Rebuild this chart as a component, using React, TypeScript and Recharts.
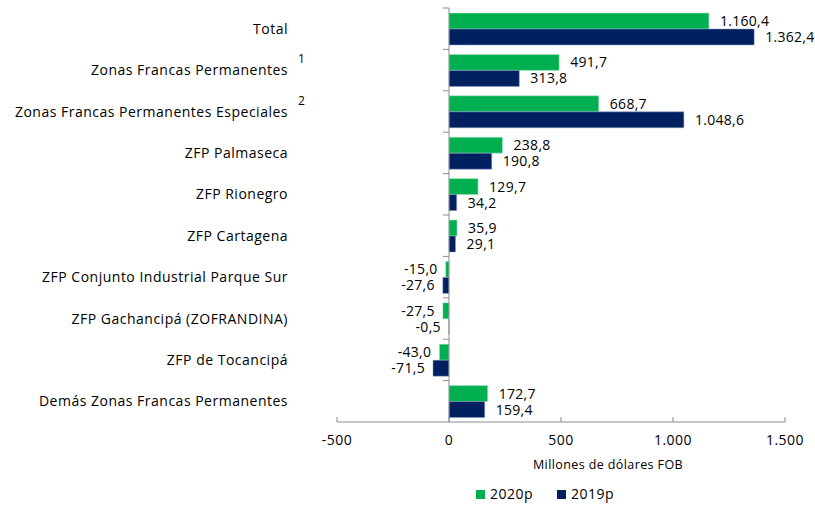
import { Bar, BarChart, LabelList, ReferenceLine, XAxis, YAxis, Label } from "recharts";

const categories = [
  "Total",
  "Zonas Francas Permanentes",
  "Zonas Francas Permanentes Especiales",
  "ZFP Palmaseca",
  "ZFP Rionegro",
  "ZFP Cartagena",
  "ZFP Conjunto Industrial Parque Sur",
  "ZFP Gachancipá (ZOFRANDINA)",
  "ZFP de Tocancipá",
  "Demás Zonas Francas Permanentes",
];
const notes = ["", "1", "2", "", "", "", "", "", "", ""];
const v2020 = [1160.4, 491.7, 668.7, 238.8, 129.7, 35.9, -15.0, -27.5, -43.0, 172.7];
const v2019 = [1362.4, 313.8, 1048.6, 190.8, 34.2, 29.1, -27.6, -0.5, -71.5, 159.4];
const xTicks = [-500, 0, 500, 1000, 1500];

const data = categories.map((name, i) => ({
  name,
  note: notes[i],
  y2020: v2020[i],
  y2019: v2019[i],
}));

const GREEN = "#00B050";
const NAVY = "#002060";
const AXIS = "#8C8C8C";
const FONT = "Open Sans";
const TXT = { fontFamily: FONT, fontSize: 14, letterSpacing: 0.5, fill: "#000" };

const W = 815;
const H = 506;
const PLOT_LEFT = 337;
const PLOT_RIGHT = 785;
const PLOT_TOP = 8;
const PLOT_BOTTOM = 422;
const ZERO_X = PLOT_LEFT + ((0 - -500) / 2000) * (PLOT_RIGHT - PLOT_LEFT);
const BAND = (PLOT_BOTTOM - PLOT_TOP) / categories.length;

function fmt(v: number, decimals = 1) {
  const neg = v < 0;
  const [int, dec] = Math.abs(v).toFixed(decimals).split(".");
  const withDots = int.replace(/\B(?=(\d{3})+(?!\d))/g, ".");
  return (neg ? "-" : "") + withDots + (dec ? "," + dec : "");
}

function CategoryTick(props: any) {
  const { y, payload, index } = props;
  const note = notes[index] || "";
  return (
    <g>
      <text x={288} y={y} dy={5} textAnchor="end" {...TXT}>
        {payload.value}
      </text>
      {note && (
        <text x={298} y={y} dy={-7} fontSize={12} fontFamily={FONT} fill="#000">
          {note}
        </text>
      )}
      <line x1={ZERO_X - 6} x2={ZERO_X} y1={y - BAND / 2} y2={y - BAND / 2} stroke={AXIS} />
    </g>
  );
}

function ValueTick(props: any) {
  const { x, y, payload } = props;
  return (
    <g>
      <line x1={x} x2={x} y1={y} y2={y - 5} stroke={AXIS} />
      <text x={x} y={y} dy={23} textAnchor="middle" {...TXT}>
        {fmt(payload.value, 0)}
      </text>
    </g>
  );
}

function ValueLabel(props: any) {
  const { x, y, width, height, value } = props;
  const left = Math.min(x, x + width);
  const right = Math.max(x, x + width);
  const neg = value < 0;
  return (
    <text
      x={neg ? left - 8 : right + 11}
      y={y + height / 2}
      dy={5}
      textAnchor={neg ? "end" : "start"}
      {...TXT}
      letterSpacing={0.3}
    >
      {fmt(value)}
    </text>
  );
}

function LegendBox() {
  const items = [
    { label: "2020p", color: GREEN },
    { label: "2019p", color: NAVY },
  ];
  return (
    <div
      style={{
        position: "absolute",
        top: 485,
        left: 476,
        display: "flex",
        gap: 24,
        fontFamily: FONT,
        fontSize: 14,
        letterSpacing: 0.5,
        lineHeight: "18px",
      }}
    >
      {items.map((it) => (
        <div key={it.label} style={{ display: "flex", alignItems: "center", gap: 5 }}>
          <span style={{ width: 9, height: 9, background: it.color, display: "inline-block" }} />
          <span>{it.label}</span>
        </div>
      ))}
    </div>
  );
}

export default function App() {
  return (
    <div style={{ position: "absolute", left: 0, top: 0, width: W, height: H, background: "#fff" }}>
      <BarChart
        width={W}
        height={H}
        data={data}
        layout="vertical"
        margin={{ top: PLOT_TOP, right: W - PLOT_RIGHT, bottom: 0, left: 0 }}
        barGap={0}
        barSize={16}
        style={{ overflow: "visible" }}
      >
        <XAxis
          type="number"
          domain={[-500, 1500]}
          ticks={xTicks}
          tick={<ValueTick />}
          tickSize={0}
          tickMargin={0}
          tickLine={false}
          axisLine={{ stroke: AXIS }}
          height={H - PLOT_BOTTOM}
          interval={0}
          allowDataOverflow
        >
          <Label
            value="Millones de dólares FOB"
            position="insideTop"
            offset={38}
            dx={47}
            fontSize={12.5}
            letterSpacing={0.4}
            fontFamily={FONT}
            fill="#000"
          />
        </XAxis>
        <YAxis
          type="category"
          dataKey="name"
          width={PLOT_LEFT}
          tick={<CategoryTick />}
          tickSize={0}
          tickMargin={0}
          tickLine={false}
          axisLine={false}
          interval={0}
        />
        <ReferenceLine x={0} stroke={AXIS} />
        <Bar dataKey="y2020" name="2020p" fill={GREEN} stroke="#B9E8CB" strokeWidth={0.5} isAnimationActive={false}>
          <LabelList dataKey="y2020" content={<ValueLabel />} />
        </Bar>
        <Bar dataKey="y2019" name="2019p" fill={NAVY} stroke="#8FA0C4" strokeWidth={0.5} isAnimationActive={false}>
          <LabelList dataKey="y2019" content={<ValueLabel />} />
        </Bar>
      </BarChart>
      <LegendBox />
    </div>
  );
}
